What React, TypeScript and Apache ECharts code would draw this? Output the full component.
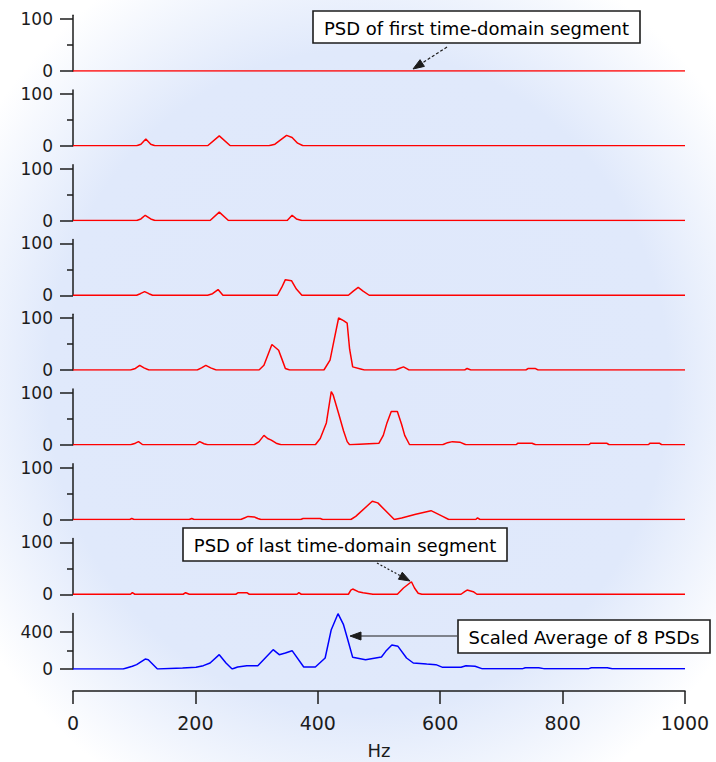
import React, { useEffect, useRef } from "react";
import * as echarts from "echarts";

// ---------------- DATA ----------------
const hzTicks = [0, 200, 400, 600, 800, 1000];
const redTickValues = [0, 100];
const blueTickValues = [0, 400];

// [Hz, PSD] pairs
const psd1: number[][] = [[0, 0], [1000, 0]];
const psd2: number[][] = [
  [0, 0], [104, 0], [111, 3], [119, 13], [127, 3], [134, 0],
  [220, 0], [239, 19], [257, 0],
  [320, 0], [330, 3], [349, 20], [358, 16], [367, 5], [376, 0], [1000, 0],
];
const psd3: number[][] = [
  [0, 0], [104, 0], [111, 3], [118, 10], [127, 3], [134, 0],
  [224, 0], [239, 16], [254, 0],
  [350, 0], [358, 10], [365, 3], [374, 0], [1000, 0],
];
const psd4: number[][] = [
  [0, 0], [104, 0], [110, 3], [117, 7], [124, 3], [130, 0],
  [220, 0], [228, 3], [237, 11], [245, 0],
  [334, 0], [341, 15], [347, 30], [357, 28], [365, 12], [374, 0],
  [450, 0], [458, 8], [466, 15], [474, 8], [484, 0], [1000, 0],
];
const psd5: number[][] = [
  [0, 0], [94, 0], [102, 3], [109, 9], [116, 4], [124, 0],
  [203, 0], [210, 4], [217, 9], [225, 4], [234, 0],
  [304, 0], [312, 9], [325, 49], [336, 38], [342, 19], [347, 3], [354, 0],
  [410, 0], [420, 19], [427, 60], [434, 100], [442, 95], [448, 90], [452, 40], [457, 6], [470, 2], [476, 0],
  [527, 0], [533, 3], [540, 6], [546, 2], [549, 0],
  [640, 0], [644, 3], [650, 0],
  [740, 0], [744, 3], [755, 3], [760, 0], [1000, 0],
];
const psd6: number[][] = [
  [0, 0], [94, 0], [102, 3], [107, 6], [114, 0],
  [200, 0], [207, 6], [214, 2], [220, 0],
  [296, 0], [304, 6], [312, 18], [318, 12], [324, 9], [332, 3], [340, 0],
  [396, 0], [404, 12], [414, 42], [422, 102], [425, 96], [434, 60], [442, 27], [448, 6], [452, 0],
  [484, 2], [500, 3], [507, 18], [513, 42], [520, 64], [530, 64], [537, 39], [542, 18], [550, 0],
  [604, 0], [612, 4], [620, 6], [632, 5], [642, 0],
  [724, 0], [727, 3], [750, 3], [756, 0],
  [843, 0], [846, 3], [872, 3], [876, 0],
  [940, 0], [943, 3], [958, 3], [962, 0], [1000, 0],
];
const psd7: number[][] = [
  [0, 0], [93, 0], [96, 2], [100, 0],
  [190, 0], [194, 2], [198, 0],
  [274, 0], [280, 3], [286, 6], [296, 5], [302, 2], [307, 0],
  [372, 0], [376, 2], [404, 2], [408, 0],
  [454, 0], [462, 6], [489, 35], [498, 32], [525, 0], [537, 3], [560, 10], [585, 17], [604, 6], [614, 0],
  [658, 0], [661, 3], [665, 0], [1000, 0],
];
const psd8: number[][] = [
  [0, 0], [94, 0], [97, 3], [101, 0],
  [180, 0], [184, 3], [190, 0],
  [266, 0], [270, 3], [284, 3], [288, 0],
  [366, 0], [369, 3], [373, 0],
  [450, 0], [454, 8], [457, 10], [466, 5], [474, 3], [490, 0],
  [530, 0], [540, 12], [553, 24], [558, 12], [564, 2], [570, 0],
  [634, 0], [640, 5], [644, 8], [654, 5], [660, 0], [1000, 0],
];
const avgPsd: number[][] = [
  [0, 0], [82, 0], [97, 29], [104, 47], [118, 108], [123, 100], [138, 0],
  [179, 11], [201, 18], [213, 36], [224, 65], [239, 155], [250, 65], [260, 0],
  [269, 22], [284, 36], [302, 36], [327, 209], [337, 155], [347, 173], [358, 198],
  [377, 22], [396, 22], [412, 119], [422, 425], [433, 598], [442, 479], [449, 317], [457, 126],
  [478, 101], [504, 130], [511, 191], [521, 259], [531, 245], [545, 119], [556, 65],
  [578, 54], [593, 47], [604, 18], [634, 18], [642, 36], [657, 29], [668, 4],
  [735, 4], [739, 14], [761, 14], [769, 4],
  [843, 4], [847, 14], [873, 14], [881, 2], [1000, 2],
];

const redSeries = [psd1, psd2, psd3, psd4, psd5, psd6, psd7, psd8];

const labelFirst = "PSD of first time-domain segment";
const labelLast = "PSD of last time-domain segment";
const labelAvg = "Scaled Average of 8 PSDs";

// ---------------- LAYOUT / STYLE ----------------
const FONT = '"DejaVu Sans", sans-serif';
const INK = "#1c1c1c";
const LEFT = 73;
const WIDTH = 612;
const RED_MAX = 107;
const BLUE_MAX = 600;

function arrow(x1: number, y1: number, x2: number, y2: number, dash: number[] | null) {
  const dx = x2 - x1, dy = y2 - y1;
  const len = Math.sqrt(dx * dx + dy * dy);
  const ux = dx / len, uy = dy / len;
  const hl = 11, hw = 4;
  const bx = x2 - ux * hl, by = y2 - uy * hl;
  const nx = -uy, ny = ux;
  return [
    {
      type: "line",
      shape: { x1, y1, x2: bx, y2: by },
      style: { stroke: INK, lineWidth: 1.2, lineDash: dash || undefined },
    },
    {
      type: "polygon",
      shape: { points: [[x2, y2], [bx + nx * hw, by + ny * hw], [bx - nx * hw, by - ny * hw]] },
      style: { fill: INK, stroke: INK, lineWidth: 1 },
    },
  ];
}

function box(x: number, y: number, w: number, h: number, text: string) {
  return [
    {
      type: "rect",
      shape: { x, y, width: w, height: h },
      style: { fill: "#ffffff", stroke: INK, lineWidth: 1.6 },
    },
    {
      type: "text",
      x: x + w / 2,
      y: y + h / 2 + 1,
      style: {
        text,
        fill: "#000",
        font: `18px ${FONT}`,
        align: "center",
        verticalAlign: "middle",
      },
    },
  ];
}

function buildOption() {
  const grids: any[] = [];
  const xAxes: any[] = [];
  const yAxes: any[] = [];
  const series: any[] = [];
  const lineStyle = { color: INK, width: 1.5 };

  const yAxisBase = (i: number, max: number, interval: number, ticks: number[]) => ({
    gridIndex: i,
    type: "value",
    min: 0,
    max,
    interval,
    axisLine: { show: true, onZero: false, lineStyle },
    axisTick: { show: true, length: 13, customValues: ticks, lineStyle },
    minorTick: { show: true, splitNumber: 2, length: 6, lineStyle },
    axisLabel: {
      customValues: ticks,
      formatter: (v: number) => (ticks.indexOf(v) >= 0 ? String(v) : ""),
      margin: 20,
      fontSize: 17,
      fontFamily: FONT,
      color: INK,
    },
    splitLine: { show: false },
    minorSplitLine: { show: false },
  });

  redSeries.forEach((d, i) => {
    const zero = 71 + 74.75 * i;
    const h = (52 * RED_MAX) / 100;
    grids.push({ left: LEFT, width: WIDTH, top: zero - h, height: h });
    xAxes.push({ gridIndex: i, type: "value", min: 0, max: 1000, show: false });
    yAxes.push(yAxisBase(i, RED_MAX, 100, redTickValues));
    series.push({
      type: "line",
      xAxisIndex: i,
      yAxisIndex: i,
      data: d,
      symbol: "none",
      showSymbol: false,
      silent: true,
      lineStyle: { color: "#ff0000", width: 1.5 },
    });
  });

  const bi = redSeries.length;
  const bZero = 669;
  const bh = (37 * BLUE_MAX) / 400;
  grids.push({ left: LEFT, width: WIDTH, top: bZero - bh, height: bh });
  xAxes.push({
    gridIndex: bi,
    type: "value",
    min: hzTicks[0],
    max: hzTicks[hzTicks.length - 1],
    interval: 200,
    position: "bottom",
    offset: 22,
    axisLine: { show: true, onZero: false, lineStyle },
    axisTick: { show: true, inside: false, length: 13, lineStyle },
    axisLabel: {
      margin: 22,
      fontSize: 19,
      fontFamily: FONT,
      color: INK,
      formatter: (v: number) => String(v),
    },
    splitLine: { show: false },
    name: "Hz",
    nameLocation: "middle",
    nameGap: 50,
    nameTextStyle: { fontSize: 18, fontFamily: FONT, color: INK },
  });
  yAxes.push(yAxisBase(bi, BLUE_MAX, 400, blueTickValues));
  series.push({
    type: "line",
    xAxisIndex: bi,
    yAxisIndex: bi,
    data: avgPsd,
    symbol: "none",
    showSymbol: false,
    silent: true,
    lineStyle: { color: "#0000ff", width: 1.5 },
  });

  const graphic: any[] = [
    ...arrow(447, 47, 413, 69, [3, 2]),
    ...box(313, 11, 327, 32, labelFirst),
    ...arrow(377, 563, 410, 581, [2, 2]),
    ...box(183, 528, 324, 33, labelLast),
    ...arrow(457, 636, 350, 636, null),
    ...box(458, 620, 252, 33, labelAvg),
  ];

  return {
    animation: false,
    backgroundColor: new echarts.graphic.RadialGradient(0.5, 0.5, 0.62, [
      { offset: 0, color: "#dfe8fb" },
      { offset: 0.7, color: "#e0e9fb" },
      { offset: 1, color: "#ffffff" },
    ]),
    textStyle: { fontFamily: FONT },
    grid: grids,
    xAxis: xAxes,
    yAxis: yAxes,
    series,
    graphic,
  };
}

export default function App() {
  const ref = useRef<HTMLDivElement>(null);
  useEffect(() => {
    document.body.style.margin = "0";
    if (!ref.current) return;
    const chart = echarts.init(ref.current, null, { renderer: "svg" });
    chart.setOption(buildOption() as any);
    return () => chart.dispose();
  }, []);
  return <div ref={ref} style={{ width: 716, height: 762 }} />;
}
